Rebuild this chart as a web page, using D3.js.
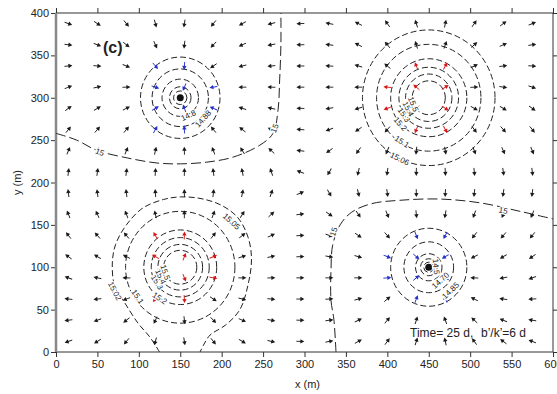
<!DOCTYPE html>
<html>
<head>
<meta charset="utf-8">
<script src="https://cdn.jsdelivr.net/npm/d3@7"></script>
<style>
  body { margin: 0; background: #fff; }
  svg { display: block; font-family: "Liberation Sans", Arial, sans-serif; }
</style>
</head>
<body>
<div id="chart"></div>
<script>
// arrow grid nodes (m)
const gridX = [15, 50, 85, 120, 155, 190, 225, 260, 295, 330, 365, 400, 435, 470, 505, 540, 575];
const gridY = [387.5, 362.5, 337.5, 312.5, 287.5, 262.5, 237.5, 212.5, 187.5, 162.5, 137.5, 112.5, 87.5, 62.5, 37.5, 12.5];

// flow direction at each node, degrees ccw from +x, one row per gridY value
const flowAngle = [
  [-19, -33, -51, -75, -99, -129, -150, -166, -178, 169, 152, 126, 108, 78, 55, 37, 22],
  [-7, -20, -38, -65, -96, -134, -156, -169, -179, 172, 153, 130, 107, 70, 42, 23, 9],
  [6, -5, -21, -49, -94, -146, -166, -175, 180, 177, 164, 140, 112, 62, 27, 8, -3],
  [21, 12, 2, -18, -113, -170, 180, 178, 180, 180, 180, 175, 140, 32, 3, -10, -19],
  [36, 31, 27, 30, 111, 156, 162, 168, 178, -170, -164, -158, -140, -32, -28, -31, -35],
  [52, 49, 50, 61, 92, 129, 142, 155, 176, -160, -145, -132, -112, -62, -52, -49, -51],
  [67, 66, 68, 77, 91, 111, 122, 137, 173, -145, -125, -113, -96, -80, -70, -66, -67],
  [83, 82, 83, 86, 89, 97, 101, 109, 158, -120, -103, -98, -91, -87, -84, -82, -83],
  [97, 98, 97, 94, 91, 83, 79, 71, 22, -60, -77, -82, -89, -93, -96, -98, -97],
  [113, 114, 112, 103, 89, 69, 58, 43, 7, -35, -55, -67, -84, -100, -110, -114, -113],
  [128, 131, 130, 119, 88, 51, 38, 25, 4, -20, -35, -48, -68, -118, -128, -131, -129],
  [144, 149, 153, 150, 69, 24, 18, 12, 2, -10, -16, -22, -40, -148, -152, -149, -145],
  [159, 168, 178, -162, -67, -10, 0, 2, 0, 0, 0, 5, 40, 148, 177, -170, -161],
  [174, -175, -159, -131, -86, -34, -14, -5, 0, 3, 16, 40, 68, 118, 153, 172, -177],
  [-173, -160, -142, -115, -84, -46, -24, -11, -1, 8, 27, 50, 73, 110, 138, 157, 171],
  [-161, -147, -129, -105, -81, -51, -30, -14, -2, 11, 28, 54, 72, 102, 125, 143, 158]
];

// wells: "out" = pumping, "in" = injection
const wellX = [150, 450, 150, 450];
const wellY = [300, 300, 100, 100];
const wellType = ["out", "in", "in", "out"];

// closed head contours around each well (radius, m)
const ringRadii = [
  [48, 34, 22, 13, 8],
  [80, 63, 46, 36, 28, 20],
  [66, 44, 35, 27, 20],
  [46, 30, 16, 10, 6]
];

// contour labels: well index, radius, angle (deg), text
const ringLabels = [
  [0, 23, -65, "14.8"], [0, 37, -42, "14.88"],
  [1, 80, 244, "15.06"], [1, 61, 238, "15.1"], [1, 46, 222, "15.2"],
  [1, 36, 214, "15.3"], [1, 28, 208, "15.4"], [1, 20, 202, "15.5"],
  [2, 62, 214, "15.1"], [2, 44, 236, "15.2"], [2, 33, 212, "15.3"],
  [2, 26, 205, "15.4"], [2, 19, 198, "15.5"],
  [3, 38, -46, "14.85"], [3, 21, -48, "14.70"], [3, 9, 5, "14.5"]
];

// open contours (x, y in m)
const contour15a = [[0, 258], [25, 250], [49, 238], [86, 229], [122, 223], [150, 222], [182, 224],
  [214, 230], [246, 244], [262, 258], [268, 285], [270, 321], [271.5, 362], [271.5, 400]];
const contour15b = [[338, 0], [335.5, 38], [332, 61], [332, 97], [334, 126], [343, 150], [357, 165],
  [381, 175], [415, 179], [463, 180.5], [512, 176], [560, 166], [600, 157]];
const contour1502 = [[125, 0], [113, 18], [99, 34], [83, 58], [71, 77], [68, 105], [72, 127], [85, 150],
  [105, 170], [130, 180], [150, 183], [175, 181], [200, 173], [220, 158], [232, 135], [236, 110],
  [232, 80], [222, 50], [205, 32], [186, 20], [178, 8], [174, 0]];

// labels on open contours: x, y, rotation, text
const openLabels = [
  [53, 236, 22, "15"], [264, 264, -68, "15"],
  [335, 142, -72, "15"], [540, 167, 12, "15"],
  [71, 72, 62, "15.02"], [212, 154, 42, "15.05"]
];

const xTicks = [0, 50, 100, 150, 200, 250, 300, 350, 400, 450, 500, 550, 600];
const yTicks = [0, 50, 100, 150, 200, 250, 300, 350, 400];

const W = 557, H = 394;
const margin = {top: 13, right: 4, bottom: 42, left: 56};

const svg = d3.select("#chart").append("svg")
  .attr("width", W)
  .attr("height", H);

const x = d3.scaleLinear().domain([0, 600]).range([margin.left, 553]);
const y = d3.scaleLinear().domain([0, 400]).range([352, margin.top]);

// axes, ticks outward on all four sides
const axisStyle = g => {
  g.select(".domain").remove();
  g.selectAll(".tick line").attr("stroke", "#333");
  g.selectAll(".tick text").attr("fill", "#222").attr("font-size", 11)
    .attr("font-family", "\"Liberation Sans\", Arial, sans-serif");
};
svg.append("g")
  .attr("transform", `translate(0,${y(0)})`)
  .call(d3.axisBottom(x).tickValues(xTicks).tickSize(5).tickPadding(3))
  .call(axisStyle);
svg.append("g")
  .attr("transform", `translate(0,${y(400)})`)
  .call(d3.axisTop(x).tickValues(xTicks).tickSize(5).tickFormat(""))
  .call(axisStyle);
svg.append("g")
  .attr("transform", `translate(${x(0)},0)`)
  .call(d3.axisLeft(y).tickValues(yTicks).tickSize(5).tickPadding(2))
  .call(axisStyle);
svg.append("g")
  .attr("transform", `translate(${x(600)},0)`)
  .call(d3.axisRight(y).tickValues(yTicks).tickSize(5).tickFormat(""))
  .call(axisStyle);

// frame
svg.append("rect")
  .attr("x", x(0)).attr("y", y(400))
  .attr("width", x(600) - x(0)).attr("height", y(0) - y(400))
  .attr("fill", "none").attr("stroke", "#333").attr("stroke-width", 1);
svg.append("line")
  .attr("x1", x(0)).attr("x2", x(0)).attr("y1", y(400)).attr("y2", y(0))
  .attr("stroke", "#888").attr("stroke-width", 2.5);

// axis titles
svg.append("text")
  .attr("x", (x(0) + x(600)) / 2 + 3).attr("y", 388)
  .attr("text-anchor", "middle").attr("font-size", 11).attr("fill", "#222")
  .text("x (m)");
svg.append("text")
  .attr("transform", `translate(21,${(y(0) + y(400)) / 2}) rotate(-90)`)
  .attr("text-anchor", "middle").attr("font-size", 11).attr("fill", "#222")
  .text("y (m)");

// contours
const plot = svg.append("g");
const rings = [];
ringRadii.forEach((rs, w) => rs.forEach(r => rings.push({w, r})));
plot.selectAll("ellipse.ring")
  .data(rings)
  .enter().append("ellipse")
  .attr("class", "ring")
  .attr("cx", d => x(wellX[d.w]))
  .attr("cy", d => y(wellY[d.w]))
  .attr("rx", d => x(d.r) - x(0))
  .attr("ry", d => y(0) - y(d.r))
  .attr("fill", "none")
  .attr("stroke", "#222")
  .attr("stroke-width", 1)
  .attr("stroke-dasharray", "6,3");

const line = d3.line().x(d => x(d[0])).y(d => y(d[1])).curve(d3.curveCatmullRom);
plot.selectAll("path.open")
  .data([contour15a, contour15b, contour1502])
  .enter().append("path")
  .attr("class", "open")
  .attr("d", line)
  .attr("fill", "none")
  .attr("stroke", "#222")
  .attr("stroke-width", 1)
  .attr("stroke-dasharray", (d, i) => i < 2 ? "10,4" : "6,3");

// arrows
const nodes = [];
gridY.forEach((gy, j) => gridX.forEach((gx, i) => {
  let color = "#1a1a1a";
  wellX.forEach((wx, k) => {
    if (Math.hypot(gx - wx, gy - wellY[k]) < 52) color = wellType[k] === "in" ? "#d81818" : "#2430c8";
  });
  nodes.push({gx, gy, a: flowAngle[j][i], color});
}));
const arrow = plot.selectAll("g.arrow")
  .data(nodes)
  .enter().append("g")
  .attr("class", "arrow")
  .attr("transform", d => `translate(${x(d.gx)},${y(d.gy)}) rotate(${-d.a})`);
arrow.append("line")
  .attr("x1", -4).attr("x2", 1)
  .attr("stroke", d => d.color).attr("stroke-width", 0.9);
arrow.append("path")
  .attr("d", "M4,0L0,-2.2L0,2.2Z")
  .attr("fill", d => d.color);

// pumping well markers
plot.selectAll("circle.well")
  .data(wellX.map((wx, k) => ({wx, wy: wellY[k], t: wellType[k]})).filter(d => d.t === "out"))
  .enter().append("circle")
  .attr("class", "well")
  .attr("cx", d => x(d.wx)).attr("cy", d => y(d.wy))
  .attr("r", 3.5).attr("fill", "#111");

// contour labels
const labelNodes = ringLabels.map(([w, r, phi, t]) => {
  const rad = phi * Math.PI / 180;
  let rot = -(phi + 90);
  while (rot > 90) rot -= 180;
  while (rot <= -90) rot += 180;
  return {px: wellX[w] + r * Math.cos(rad), py: wellY[w] + r * Math.sin(rad), rot, t, size: 8};
}).concat(openLabels.map(([lx, ly, rot, t]) => ({px: lx, py: ly, rot, t, size: 8})));
plot.selectAll("text.clab")
  .data(labelNodes)
  .enter().append("text")
  .attr("class", "clab")
  .attr("transform", d => `translate(${x(d.px)},${y(d.py)}) rotate(${d.rot})`)
  .attr("text-anchor", "middle")
  .attr("dy", "0.35em")
  .attr("font-size", d => d.size)
  .attr("fill", "#222")
  .attr("stroke", "#fff").attr("stroke-width", 2.5)
  .attr("paint-order", "stroke")
  .text(d => d.t);

// panel tag and run info
svg.append("text")
  .attr("x", 103).attr("y", 53)
  .attr("font-size", 16).attr("font-weight", "bold").attr("fill", "#222")
  .text("(c)");
svg.append("text")
  .attr("x", 410).attr("y", 337)
  .attr("font-size", 12).attr("fill", "#222")
  .text("Time= 25 d,");
svg.append("text")
  .attr("x", 481).attr("y", 337)
  .attr("font-size", 12).attr("fill", "#222")
  .text("b\u2019/k\u2019=6 d");
</script>
</body>
</html>
